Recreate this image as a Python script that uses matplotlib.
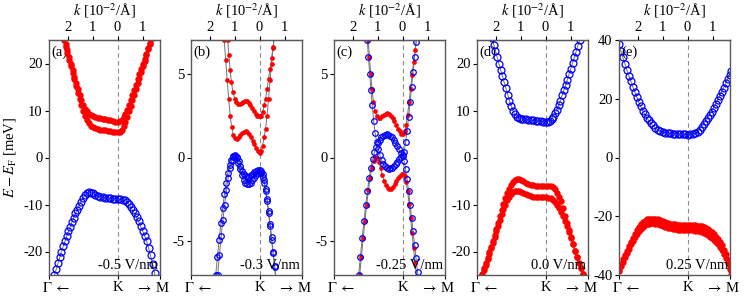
import matplotlib
matplotlib.use("Agg")
import matplotlib.pyplot as plt

plt.rcParams['font.family'] = ['Liberation Serif', 'DejaVu Serif']
plt.rcParams['mathtext.fontset'] = 'stix'
plt.rcParams['axes.unicode_minus'] = False
plt.rcParams['font.size'] = 10.5

# ---------------- data (k in 1e-2/A, E in meV) ----------------
k_dense = [-2.15, -2.08, -2.01, -1.94, -1.87, -1.80, -1.73, -1.66, -1.59, -1.52,
           -1.45, -1.38, -1.31, -1.24, -1.16, -1.08, -1.0, -0.9, -0.8, -0.7,
           -0.6, -0.5, -0.4, -0.3, -0.2, -0.1, 0.0, 0.08, 0.16, 0.24,
           0.31, 0.38, 0.45, 0.52, 0.59, 0.66, 0.73, 0.80, 0.87, 0.94,
           1.01, 1.08, 1.15, 1.22, 1.29, 1.36, 1.43]
k_wide = [-2.6, -2.53, -2.46, -2.39, -2.32, -2.25, -2.18, -2.11, -2.04, -1.97,
          -1.9, -1.83, -1.76, -1.69, -1.62, -1.55, -1.48, -1.4, -1.32, -1.24,
          -1.16, -1.08, -1.0, -0.9, -0.8, -0.7, -0.6, -0.5, -0.4, -0.3,
          -0.2, -0.1, 0.0, 0.1, 0.2, 0.28, 0.36, 0.44, 0.52, 0.6,
          0.68, 0.76, 0.84, 0.92, 1.0, 1.08, 1.16, 1.24, 1.32, 1.4,
          1.48, 1.56]
k_e = [-2.76, -2.68, -2.6, -2.52, -2.44, -2.36, -2.28, -2.2, -2.12, -2.04,
       -1.96, -1.88, -1.8, -1.72, -1.64, -1.56, -1.48, -1.4, -1.3, -1.2,
       -1.1, -1.0, -0.9, -0.8, -0.7, -0.6, -0.5, -0.4, -0.3, -0.2,
       -0.1, 0.0, 0.1, 0.2, 0.3, 0.4, 0.48, 0.56, 0.64, 0.72,
       0.8, 0.88, 0.96, 1.04, 1.12, 1.2, 1.28, 1.36, 1.44, 1.52,
       1.6, 1.68, 1.76]

# (a) -0.5 V/nm
Ea_red1 = [25.6, 24.2, 22.8, 21.4, 20.0, 18.6, 17.2, 15.8, 14.5, 13.3,
           12.2, 11.2, 10.4, 9.8, 9.3, 9.0, 8.8, 8.6, 8.45, 8.3,
           8.2, 8.1, 8.0, 7.9, 7.8, 7.65, 7.6, 7.7, 8.0, 8.6,
           9.3, 10.2, 11.2, 12.2, 13.3, 14.4, 15.5, 16.6, 17.7, 18.8,
           19.9, 21.0, 22.1, 23.2, 24.3, 25.4, 26.5]
Ea_red2 = [25.0, 23.6, 22.2, 20.8, 19.4, 18.0, 16.6, 15.2, 13.8, 12.4,
           11.1, 9.9, 8.9, 8.0, 7.3, 6.8, 6.5, 6.25, 6.1, 5.95,
           5.85, 5.75, 5.65, 5.55, 5.45, 5.4, 5.4, 5.5, 5.9, 6.6,
           7.5, 8.6, 9.8, 11.0, 12.2, 13.4, 14.6, 15.8, 17.0, 18.2,
           19.4, 20.6, 21.8, 23.0, 24.2, 25.4, 26.6]
Ea_blue = [-26.3, -25.0, -23.8, -22.5, -21.2, -20.0, -18.9, -17.8, -16.8, -15.7,
           -14.7, -13.7, -12.8, -11.9, -11.1, -10.3, -9.5, -8.7, -8.0, -7.5,
           -7.35, -7.45, -7.65, -7.9, -8.15, -8.35, -8.5, -8.6, -8.65, -8.7,
           -8.75, -8.8, -8.85, -8.9, -9.0, -9.1, -9.4, -9.9, -10.5, -11.2,
           -11.9, -12.7, -13.6, -14.6, -15.6, -16.6, -17.7, -19.2, -20.8, -22.6,
           -24.5, -26.4]

# (b) -0.3 V/nm
kb_red1 = [-1.28, -1.23, -1.18, -1.13, -1.07, -1.00, -0.93, -0.86, -0.79, -0.72,
           -0.65, -0.58, -0.51, -0.44, -0.37, -0.30, -0.23, -0.16, -0.09, -0.03,
           0.02, 0.06, 0.12, 0.18, 0.24, 0.30, 0.36, 0.42, 0.48, 0.54, 0.60]
Eb_red1 = [7.0, 6.1, 5.2, 4.5, 3.9, 3.5, 3.3, 3.2, 3.2, 3.25,
           3.32, 3.36, 3.34, 3.25, 3.1, 2.92, 2.75, 2.6, 2.5, 2.45,
           2.45, 2.5, 2.7, 3.1, 3.5, 4.1, 4.7, 5.3, 5.9, 6.6, 7.3]
kb_red2 = [-1.42, -1.36, -1.30, -1.24, -1.18, -1.12, -1.05, -0.98, -0.91, -0.84,
           -0.77, -0.70, -0.63, -0.56, -0.49, -0.42, -0.35, -0.28, -0.21, -0.14,
           -0.07, 0.0, 0.06, 0.12, 0.18, 0.24, 0.30, 0.36, 0.42, 0.48, 0.54, 0.60]
Eb_red2 = [7.0, 5.8, 4.6, 3.5, 2.5, 1.8, 1.35, 1.15, 1.12, 1.2,
           1.32, 1.45, 1.53, 1.55, 1.5, 1.38, 1.2, 1.0, 0.78, 0.56,
           0.37, 0.25, 0.4, 0.7, 1.2, 1.7, 2.5, 3.5, 4.6, 5.6, 6.5, 7.4]
kb_blue1 = [-1.68, -1.61, -1.54, -1.47, -1.40, -1.33, -1.26, -1.19, -1.12, -1.05,
            -0.98, -0.91, -0.84, -0.77, -0.70, -0.63, -0.56, -0.49, -0.42, -0.35,
            -0.28, -0.21, -0.14, -0.07, 0.0, 0.06, 0.12, 0.18, 0.24, 0.30,
            0.36, 0.42, 0.48, 0.54, 0.60, 0.66]
Eb_blue1 = [-7.0, -5.8, -4.7, -3.7, -2.8, -1.95, -1.25, -0.65, -0.2, 0.08,
            0.15, 0.05, -0.2, -0.5, -0.8, -1.0, -1.12, -1.17, -1.15, -1.07,
            -0.97, -0.87, -0.8, -0.76, -0.76, -0.82, -1.0, -1.35, -1.85, -2.5,
            -3.2, -3.95, -4.75, -5.6, -6.45, -7.3]
kb_blue2 = [-1.76, -1.69, -1.62, -1.55, -1.48, -1.41, -1.34, -1.27, -1.20, -1.13,
            -1.06, -0.99, -0.92, -0.85, -0.78, -0.71, -0.64, -0.57, -0.50, -0.43,
            -0.36, -0.29, -0.22, -0.15, -0.08, 0.0, 0.06, 0.12, 0.18, 0.24,
            0.30, 0.36, 0.42, 0.48, 0.54, 0.60, 0.66, 0.72]
Eb_blue2 = [-7.0, -5.9, -4.9, -3.9, -3.0, -2.2, -1.5, -0.9, -0.45, -0.12,
            0.05, 0.08, -0.05, -0.35, -0.7, -1.05, -1.32, -1.5, -1.58, -1.58,
            -1.5, -1.37, -1.22, -1.07, -0.95, -0.9, -0.95, -1.15, -1.5, -2.0,
            -2.6, -3.3, -4.1, -4.9, -5.7, -6.5, -7.3, -8.1]

# (c) -0.25 V/nm
kc_red1 = [-1.38, -1.33, -1.28, -1.23, -1.17, -1.10, -1.03, -0.96, -0.89, -0.82,
           -0.75, -0.68, -0.61, -0.54, -0.47, -0.40, -0.33, -0.26, -0.19, -0.12,
           -0.05, 0.02, 0.08, 0.14, 0.20, 0.26, 0.32, 0.38, 0.44, 0.50, 0.56]
Ec_red1 = [7.0, 6.0, 5.0, 4.1, 3.3, 2.75, 2.45, 2.35, 2.38, 2.46,
           2.55, 2.62, 2.64, 2.6, 2.5, 2.35, 2.15, 1.95, 1.72, 1.55,
           1.42, 1.38, 1.55, 1.95, 2.55, 3.3, 4.1, 4.9, 5.7, 6.4, 7.1]
kc_red2 = [-1.72, -1.65, -1.58, -1.51, -1.44, -1.37, -1.30, -1.23, -1.16, -1.09,
           -1.02, -0.95, -0.88, -0.81, -0.74, -0.67, -0.60, -0.53, -0.46, -0.39,
           -0.32, -0.25, -0.18, -0.11, -0.04, 0.02, 0.08, 0.14, 0.20, 0.26,
           0.32, 0.38, 0.44, 0.50, 0.56, 0.62]
Ec_red2 = [-7.0, -5.9, -4.8, -3.8, -2.8, -1.95, -1.2, -0.6, -0.18, 0.02,
           0.0, -0.25, -0.65, -1.05, -1.4, -1.65, -1.8, -1.87, -1.85, -1.75,
           -1.6, -1.42, -1.25, -1.1, -1.0, -0.98, -1.1, -1.45, -2.0, -2.75,
           -3.6, -4.5, -5.4, -6.3, -7.1, -7.9]
kc_blue1 = [-1.42, -1.37, -1.32, -1.27, -1.22, -1.16, -1.10, -1.04, -0.98, -0.91,
            -0.84, -0.77, -0.70, -0.63, -0.56, -0.49, -0.42, -0.35, -0.28, -0.21,
            -0.14, -0.07, 0.0, 0.06, 0.12, 0.18, 0.24, 0.30, 0.36, 0.42,
            0.48, 0.54, 0.60]
Ec_blue1 = [7.0, 6.0, 5.0, 4.0, 3.1, 2.2, 1.45, 0.9, 0.5, 0.15,
            -0.15, -0.38, -0.53, -0.62, -0.66, -0.65, -0.6, -0.5, -0.38, -0.25,
            -0.1, 0.02, 0.12, 0.35, 0.9, 1.6, 2.4, 3.3, 4.2, 5.1,
            6.0, 6.9, 7.8]
kc_blue2 = [-1.76, -1.69, -1.62, -1.55, -1.48, -1.41, -1.34, -1.27, -1.20, -1.13,
            -1.06, -0.99, -0.92, -0.85, -0.78, -0.71, -0.64, -0.57, -0.50, -0.43,
            -0.36, -0.29, -0.22, -0.15, -0.08, 0.0, 0.06, 0.12, 0.18, 0.24,
            0.30, 0.36, 0.42, 0.48, 0.54, 0.60, 0.66]
Ec_blue2 = [-7.0, -5.9, -4.8, -3.8, -2.85, -2.0, -1.25, -0.6, -0.1, 0.3,
            0.6, 0.85, 1.05, 1.2, 1.3, 1.36, 1.38, 1.36, 1.3, 1.2,
            1.05, 0.88, 0.68, 0.48, 0.28, 0.08, -0.2, -0.7, -1.3, -2.0,
            -2.8, -3.6, -4.4, -5.2, -6.0, -6.8, -7.6]

# (d) 0.0 V/nm
Ed_blue = [25.4, 24.0, 22.7, 21.3, 19.9, 18.6, 17.3, 16.0, 14.7, 13.4,
           12.1, 11.0, 10.0, 9.2, 8.7, 8.4, 8.25, 8.15, 8.1, 8.0,
           7.95, 7.9, 7.85, 7.8, 7.7, 7.6, 7.5, 7.6, 7.8, 8.2,
           8.7, 9.4, 10.2, 11.1, 12.1, 13.2, 14.3, 15.4, 16.5, 17.7,
           18.9, 20.1, 21.3, 22.5, 23.7, 24.9, 26.1]
Ed_red1 = [-26.0, -24.8, -23.6, -22.5, -21.3, -20.2, -19.0, -17.8, -16.5, -15.2,
           -13.9, -12.5, -11.1, -9.8, -8.6, -7.5, -6.6, -5.8, -5.2, -4.8,
           -4.6, -4.65, -4.8, -5.1, -5.4, -5.65, -5.85, -5.95, -6.0, -6.0,
           -6.0, -6.0, -6.0, -6.0, -6.05, -6.3, -6.8, -7.5, -8.3, -9.3,
           -10.8, -12.4, -13.9, -15.4, -16.9, -18.4, -19.8, -21.1, -22.4, -23.6,
           -24.8, -26.0]
Ed_red2 = [-26.3, -25.1, -23.9, -22.8, -21.6, -20.5, -19.3, -18.1, -16.9, -15.7,
           -14.5, -13.3, -12.1, -11.0, -10.0, -9.1, -8.4, -7.8, -7.4, -7.15,
           -7.1, -7.15, -7.3, -7.55, -7.8, -8.0, -8.2, -8.3, -8.4, -8.45,
           -8.5, -8.5, -8.5, -8.55, -8.7, -9.0, -9.5, -10.1, -10.8, -11.6,
           -12.5, -13.5, -14.6, -15.8, -17.1, -18.4, -19.8, -21.1, -22.4, -23.6,
           -24.8, -26.0]

# (e) 0.25 V/nm
Ee_blue = [38.5, 36.3, 34.2, 32.0, 29.9, 27.9, 26.0, 24.1, 22.3, 20.6,
           18.9, 17.4, 16.0, 14.7, 13.6, 12.6, 11.7, 10.9, 10.1, 9.5,
           9.0, 8.7, 8.5, 8.35, 8.25, 8.15, 8.1, 8.0, 7.95, 7.9,
           7.85, 7.8, 7.85, 8.0, 8.3, 8.8, 9.5, 10.4, 11.3, 12.3,
           13.3, 14.4, 15.6, 16.9, 18.2, 19.6, 21.0, 22.4, 23.8, 25.2,
           26.6, 28.0, 29.4]
Ee_red1 = [-38.0, -36.3, -34.7, -33.2, -31.7, -30.2, -28.8, -27.4, -26.0, -24.8,
           -23.7, -22.8, -22.1, -21.5, -21.1, -20.9, -20.8, -20.8, -20.9, -21.1,
           -21.4, -21.7, -22.0, -22.3, -22.5, -22.7, -22.8, -22.9, -23.0, -23.0,
           -23.0, -23.0, -23.0, -23.0, -23.1, -23.2, -23.3, -23.4, -23.7, -24.1,
           -24.5, -24.9, -25.4, -26.1, -26.9, -27.8, -28.8, -29.9, -31.4, -33.0,
           -34.8, -36.7, -38.8]
Ee_red2 = [-38.8, -37.1, -35.5, -34.0, -32.5, -31.0, -29.6, -28.3, -27.1, -26.0,
           -25.0, -24.2, -23.5, -23.0, -22.7, -22.5, -22.4, -22.4, -22.5, -22.7,
           -23.0, -23.3, -23.6, -23.9, -24.1, -24.3, -24.5, -24.6, -24.7, -24.8,
           -24.8, -24.8, -24.8, -24.8, -24.9, -25.0, -25.1, -25.3, -25.6, -26.0,
           -26.4, -26.9, -27.4, -28.0, -28.7, -29.5, -30.4, -31.4, -32.7, -34.2,
           -35.9, -37.8, -39.9]

panel_tags = ['(a)', '(b)', '(c)', '(d)', '(e)']
fields = ['-0.5 V/nm', '-0.3 V/nm', '-0.25 V/nm', '0.0 V/nm', '0.25 V/nm']
ylims = [(-25, 25), (-7, 7), (-7, 7), (-25, 25), (-40, 40)]
yticks = [[-20, -10, 0, 10, 20], [-5, 0, 5], [-5, 0, 5], [-20, -10, 0, 10, 20],
          [-40, -20, 0, 20, 40]]

red_sets = [[(k_dense, Ea_red1), (k_dense, Ea_red2)],
            [(kb_red1, Eb_red1), (kb_red2, Eb_red2)],
            [(kc_red1, Ec_red1), (kc_red2, Ec_red2)],
            [(k_wide, Ed_red1), (k_wide, Ed_red2)],
            [(k_e, Ee_red1), (k_e, Ee_red2)]]
blue_sets = [[(k_wide, Ea_blue)],
             [(kb_blue1, Eb_blue1), (kb_blue2, Eb_blue2)],
             [(kc_blue1, Ec_blue1), (kc_blue2, Ec_blue2)],
             [(k_dense, Ed_blue)],
             [(k_e, Ee_blue)]]

xmin, xmax = -2.75, 1.70
lefts = [49, 191, 334, 477, 619]
W, H = 747, 299

fig = plt.figure(figsize=(7.47, 2.99), dpi=100)

for i in range(5):
    ax = fig.add_axes([lefts[i] / W, 24 / H, 111 / W, 235 / H])
    sparse = i in (1, 2)
    ms_r = 3.4 if sparse else 4.6
    ms_b = 4.0 if sparse else 5.0

    ax.axvline(0, color='0.55', ls=(0, (4, 3)), lw=0.8, zorder=0.8)

    for k, E in red_sets[i] + blue_sets[i]:
        ax.plot(k, E, '-', color='0.45', lw=0.7, zorder=1)
    for k, E in red_sets[i]:
        ax.plot(k, E, 'o', color='red', ms=ms_r, mew=0, zorder=2)
    for k, E in blue_sets[i]:
        ax.plot(k, E, 'o', mfc='none', mec='blue', ms=ms_b, mew=0.9, zorder=2.1)

    ax.set_xlim(xmin, xmax)
    ax.set_ylim(*ylims[i])
    ax.set_yticks(yticks[i])
    ax.tick_params(axis='y', direction='out', length=3, width=0.8, pad=1.5)
    ax.tick_params(axis='x', direction='out', length=3, width=0.8)

    ax.set_xticks([xmin, 0, xmax])
    ax.set_xticklabels(['', '', ''])
    ax.text(0.063, -0.025, r'$\Gamma\;\leftarrow$', transform=ax.transAxes,
            ha='center', va='top')
    ax.text(0, -0.025, 'K', transform=ax.get_xaxis_transform(),
            ha='center', va='top')
    ax.text(0.93, -0.025, r'$\rightarrow\;$M', transform=ax.transAxes,
            ha='center', va='top')

    top = ax.secondary_xaxis('top')
    top.set_xticks([-2, -1, 0, 1])
    top.set_xticklabels(['2', '1', '0', '1'])
    top.tick_params(direction='out', length=3, width=0.8, pad=1.5)
    top.set_xlabel(r'$k$ [10$^{-2}$/Å]', labelpad=4)
    for s in top.spines.values():
        s.set_color('0.35')

    for s in ax.spines.values():
        s.set_color('0.35')
        s.set_linewidth(1.0)

    ax.text(0.02, 0.975, panel_tags[i], transform=ax.transAxes,
            ha='left', va='top', zorder=0.5)
    ax.text(0.985, 0.012, fields[i], transform=ax.transAxes,
            ha='right', va='bottom', zorder=3)

    if i == 0:
        ax.set_ylabel(r'$E-E_{\rm F}$ [meV]')
        ax.yaxis.set_label_coords(-0.28, 0.5)

fig.savefig('out.png', dpi=100)
